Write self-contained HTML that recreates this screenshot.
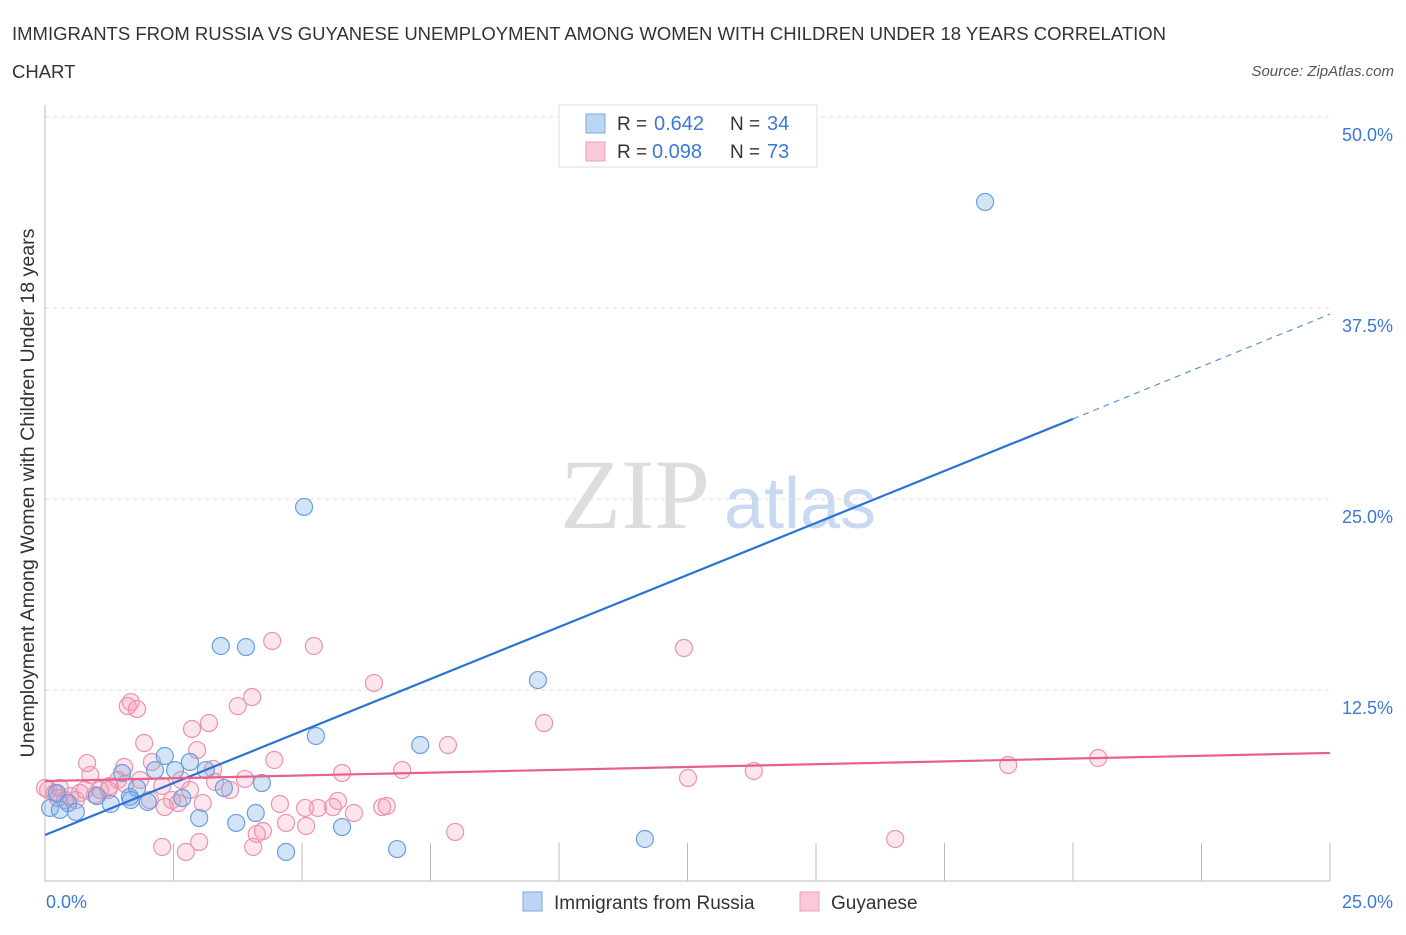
<!DOCTYPE html>
<html><head><meta charset="utf-8"><style>
body{margin:0;background:#fff;font-family:"Liberation Sans",sans-serif;}
svg text{font-family:"Liberation Sans",sans-serif;}
</style></head><body>
<svg id="c" width="1406" height="930" xmlns="http://www.w3.org/2000/svg">
<text x="12" y="40" font-size="18.5" fill="#333">IMMIGRANTS FROM RUSSIA VS GUYANESE UNEMPLOYMENT AMONG WOMEN WITH CHILDREN UNDER 18 YEARS CORRELATION</text>
<text x="12" y="78" font-size="18.5" fill="#333">CHART</text>
<text x="1394" y="76" font-size="15" fill="#555" font-style="italic" text-anchor="end">Source: ZipAtlas.com</text>
<text x="635" y="528" font-size="100" fill="#ddd" text-anchor="middle" style="font-family:'Liberation Serif',serif">ZIP</text>
<text x="800" y="528" font-size="72" fill="#c8daf0" text-anchor="middle">atlas</text>
<g id="grid"></g>
<line x1="45" y1="105" x2="45" y2="881" stroke="#bbb"/>
<line x1="45" y1="881" x2="1330" y2="881" stroke="#bbb"/>
<g id="marks"></g>
<text transform="translate(34,493) rotate(-90)" font-size="19.6" fill="#333" text-anchor="middle">Unemployment Among Women with Children Under 18 years</text>
<text x="46" y="908" font-size="18" fill="#3b78d8">0.0%</text>
<text x="1393" y="908" font-size="18" fill="#3b78d8" text-anchor="end">25.0%</text>
<g>
<rect x="559" y="105" width="258" height="62" fill="#fff" stroke="#ddd"/>
<rect x="586" y="114" width="19" height="19" fill="#bcd5f5" stroke="#7aa7e0"/>
<rect x="586" y="142" width="19" height="19" fill="#f9c9d7" stroke="#eaa0b7"/>
<text x="617" y="130" font-size="19" fill="#333">R =</text>
<text x="654" y="130" font-size="20" fill="#3b78d8">0.642</text>
<text x="730" y="130" font-size="19" fill="#333">N =</text>
<text x="767" y="130" font-size="20" fill="#3b78d8">34</text>
<text x="617" y="158" font-size="19" fill="#333">R =</text>
<text x="652" y="158" font-size="20" fill="#3b78d8">0.098</text>
<text x="730" y="158" font-size="19" fill="#333">N =</text>
<text x="767" y="158" font-size="20" fill="#3b78d8">73</text>
</g>
<g>
<rect x="523" y="892" width="19" height="19" fill="#bcd5f5" stroke="#7aa7e0"/>
<text x="554" y="909" font-size="19" fill="#333">Immigrants from Russia</text>
<rect x="800" y="892" width="19" height="19" fill="#f9c9d7" stroke="#eaa0b7"/>
<text x="831" y="909" font-size="19" fill="#333">Guyanese</text>
</g>
</svg>
<script>
const yTicks=[12.5,25,37.5,50];
const yTickLabels=["12.5%","25.0%","37.5%","50.0%"];
const xTicks=[2.5,5,7.5,10,12.5,15,17.5,20,22.5,25];
const russiaX=[18.29,5.04,3.42,3.91,9.59,5.27,7.30,2.33,1.50,2.14,2.53,2.82,3.13,4.22,3.48,1.79,0.23,1.01,1.28,1.65,2.00,2.67,0.45,0.10,0.29,0.60,3.00,3.72,4.10,5.78,11.67,4.69,6.85,1.67];
const russiaY=[44.44,24.48,15.38,15.31,13.15,9.49,8.90,8.18,7.07,7.26,7.26,7.79,7.26,6.41,6.09,6.09,5.76,5.56,5.04,5.50,5.17,5.43,5.10,4.78,4.65,4.52,4.12,3.80,4.45,3.53,2.75,1.90,2.09,5.30];
const guyX=[12.43,4.42,5.23,6.40,1.67,1.61,1.79,4.03,3.75,3.19,2.86,9.71,7.84,1.93,2.96,4.46,0.82,1.54,2.08,3.27,6.95,5.78,18.74,20.49,13.79,12.51,3.89,3.31,0.88,1.42,0.29,0.06,0.49,0.68,1.07,1.26,2.28,2.65,2.47,3.07,2.59,2.33,4.57,5.70,5.31,6.56,6.65,6.01,5.06,5.60,4.69,5.08,4.24,4.12,7.98,16.54,2.28,2.74,3.00,4.05,0.19,0.39,1.23,0.0,1.85,3.60,2.82,2.04,0.60,0.97,1.56,0.25,0.78];
const guyY=[15.25,15.71,15.38,12.96,11.71,11.45,11.26,12.04,11.45,10.34,9.95,10.34,8.90,9.03,8.57,7.92,7.72,7.46,7.79,7.33,7.26,7.07,7.59,8.05,7.20,6.74,6.68,6.48,6.94,6.61,6.09,5.96,5.56,5.76,5.96,6.22,6.22,6.61,5.30,5.10,5.10,4.84,5.04,5.24,4.78,4.84,4.91,4.45,4.78,4.84,3.80,3.60,3.27,3.08,3.21,2.75,2.23,1.90,2.55,2.23,5.76,5.30,5.96,6.09,6.61,5.96,5.96,5.30,5.30,5.63,6.35,5.43,5.96];
const russiaLine=[3.01,30.24,37.1];
const guyLine=[6.54,8.38];
const sx=v=>45+v/25*1285, sy=v=>881-v/12.5*191;
const NS="http://www.w3.org/2000/svg";
function mk(t,a,p){const e=document.createElementNS(NS,t);for(const k in a)e.setAttribute(k,a[k]);p.appendChild(e);return e;}
const grid=document.getElementById('grid'),marks=document.getElementById('marks'),svg=document.getElementById('c');
yTicks.forEach((v,i)=>{
 const l=mk('line',{x1:45,x2:1330,y1:sy(v),y2:sy(v),stroke:'#ddd','stroke-dasharray':'4,4'},grid);
 
 
 const t=mk('text',{x:1393,y:sy(v)+24,'font-size':18,fill:'#3b78d8','text-anchor':'end'},svg);
 t.textContent=yTickLabels[i];
 
 
});
xTicks.forEach(v=>{
 const l=mk('line',{x1:sx(v),x2:sx(v),y1:843,y2:881,stroke:'#bbb'},grid);
 
 
});
guyX.forEach((x,i)=>{
 const c=mk('circle',{cx:sx(x),cy:sy(guyY[i]),r:8.5,fill:'rgba(242,150,180,0.25)',stroke:'#eb93ad','stroke-width':1.2},marks);
 
 
});
russiaX.forEach((x,i)=>{
 const c=mk('circle',{cx:sx(x),cy:sy(russiaY[i]),r:8.5,fill:'rgba(110,165,230,0.3)',stroke:'#6a9ee0','stroke-width':1.2},marks);
 
 
});
let l1=mk('line',{x1:sx(0),y1:sy(russiaLine[0]),x2:sx(20),y2:sy(russiaLine[1]),stroke:'#2a72d6','stroke-width':2.2},marks);


let l2=mk('line',{x1:sx(20),y1:sy(russiaLine[1]),x2:sx(25),y2:sy(russiaLine[2]),stroke:'#5b93d9','stroke-width':1.2,'stroke-dasharray':'6,5'},marks);


let l3=mk('line',{x1:sx(0),y1:sy(guyLine[0]),x2:sx(25),y2:sy(guyLine[1]),stroke:'#e6608c','stroke-width':2.2},marks);


</script>
</body></html>
